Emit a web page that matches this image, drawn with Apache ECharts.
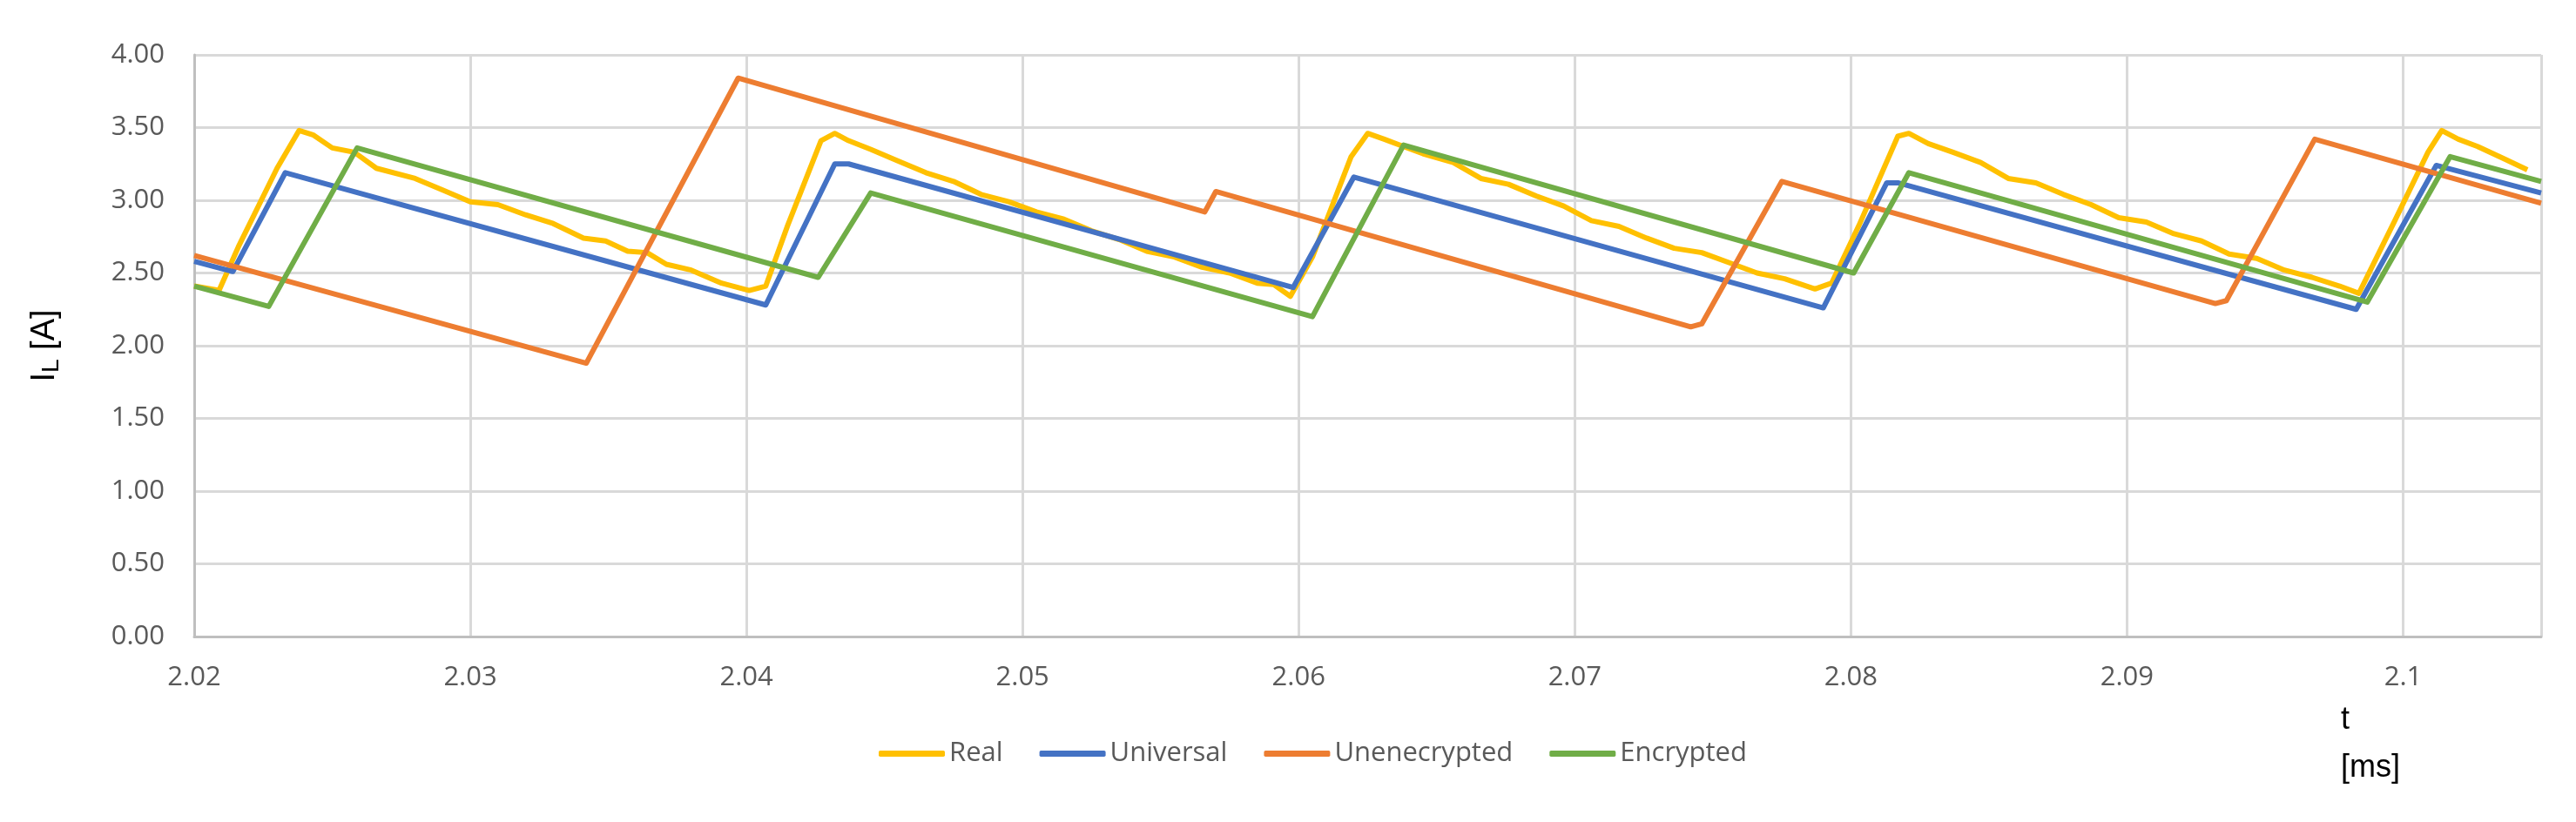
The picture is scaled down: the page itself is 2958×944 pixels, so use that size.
<!DOCTYPE html>
<html>
<head>
<meta charset="utf-8">
<script src="https://cdn.jsdelivr.net/npm/echarts@6/dist/echarts.min.js"></script>
<style>html,body{margin:0;padding:0;background:#fff}#chart{width:2958px;height:944px}</style>
</head>
<body>
<div id="chart"></div>
<script>
// 各曲线数据 [t(ms), I_L(A)]
const realData = [
	[2.02, 2.41], [2.0209, 2.38], [2.0216, 2.68], [2.023, 3.22], [2.0238, 3.48], [2.0243, 3.45],
	[2.025, 3.36], [2.0258, 3.33], [2.0266, 3.22], [2.028, 3.15], [2.029, 3.07], [2.030, 2.99],
	[2.031, 2.97], [2.032, 2.90], [2.033, 2.84], [2.0341, 2.74], [2.0349, 2.72], [2.0357, 2.65],
	[2.0364, 2.64], [2.0371, 2.56], [2.038, 2.52], [2.0391, 2.43], [2.0401, 2.38], [2.0407, 2.41],
	[2.0415, 2.83], [2.0427, 3.41], [2.0432, 3.46], [2.0437, 3.41], [2.0445, 3.35], [2.0455, 3.27],
	[2.0465, 3.19], [2.0475, 3.13], [2.0485, 3.04], [2.0495, 2.99], [2.0505, 2.92], [2.0515, 2.87],
	[2.0525, 2.79], [2.0535, 2.73], [2.0545, 2.65], [2.0555, 2.61], [2.0565, 2.54], [2.0575, 2.50],
	[2.0585, 2.43], [2.0591, 2.42], [2.0597, 2.34], [2.0605, 2.61], [2.0619, 3.30], [2.0625, 3.46],
	[2.0631, 3.42], [2.0638, 3.37], [2.0645, 3.32], [2.0656, 3.26], [2.0666, 3.15], [2.0676, 3.11],
	[2.0686, 3.03], [2.0696, 2.96], [2.0706, 2.86], [2.0716, 2.82], [2.0726, 2.74], [2.0736, 2.67],
	[2.0746, 2.64], [2.0756, 2.57], [2.0766, 2.50], [2.0776, 2.46], [2.0787, 2.39], [2.0793, 2.43],
	[2.0803, 2.83], [2.0817, 3.44], [2.0821, 3.46], [2.0828, 3.39], [2.0837, 3.33], [2.0847, 3.26],
	[2.0857, 3.15], [2.0867, 3.12], [2.0877, 3.04], [2.0887, 2.97], [2.0897, 2.88], [2.0907, 2.85],
	[2.0917, 2.77], [2.0927, 2.72], [2.0937, 2.63], [2.0947, 2.60], [2.0957, 2.52], [2.0967, 2.47],
	[2.0977, 2.41], [2.0984, 2.36], [2.0997, 2.86], [2.1009, 3.33], [2.1014, 3.48], [2.1020, 3.42],
	[2.1027, 3.37], [2.1036, 3.29], [2.1045, 3.21]
];
const universalData = [
	[2.02, 2.58], [2.0214, 2.51], [2.0233, 3.19], [2.0407, 2.28], [2.0432, 3.25], [2.0437, 3.25],
	[2.0598, 2.40], [2.062, 3.16], [2.079, 2.26], [2.0813, 3.12], [2.0817, 3.12], [2.0983, 2.25],
	[2.1012, 3.24], [2.105, 3.05]
];
const unencryptedData = [
	[2.02, 2.62], [2.0342, 1.88], [2.0397, 3.84], [2.0566, 2.92], [2.057, 3.06], [2.0742, 2.13],
	[2.0746, 2.15], [2.0775, 3.13], [2.0932, 2.29], [2.0936, 2.31], [2.0968, 3.42], [2.105, 2.98]
];
const encryptedData = [
	[2.02, 2.41], [2.0227, 2.27], [2.0259, 3.36], [2.0426, 2.47], [2.0445, 3.05], [2.0605, 2.20],
	[2.0638, 3.38], [2.0801, 2.50], [2.0821, 3.19], [2.0987, 2.30], [2.1017, 3.30], [2.105, 3.13]
];
const seriesNames = ['Real', 'Universal', 'Unenecrypted', 'Encrypted'];
const seriesColors = ['#FFC000', '#4472C4', '#ED7D31', '#70AD47'];
const seriesData = [realData, universalData, unencryptedData, encryptedData];

const chart = echarts.init(document.getElementById('chart'));
const axisText = { color: '#595959', fontSize: 31, fontFamily: 'Open Sans' };

chart.setOption({
	animation: false,
	color: seriesColors,
	grid: { left: 223, right: 40, top: 63, bottom: 213 },
	legend: {
		data: seriesNames,
		left: 1004,
		top: 845,
		icon: 'roundRect',
		itemWidth: 76,
		itemHeight: 7,
		itemGap: 42,
		textStyle: axisText
	},
	xAxis: {
		type: 'value',
		min: 2.02,
		max: 2.105,
		interval: 0.01,
		axisLine: { lineStyle: { color: '#bfbfbf', width: 3 } },
		axisTick: { show: false },
		axisLabel: {
			...axisText,
			margin: 32,
			showMaxLabel: false,
			formatter: v => String(parseFloat(v.toFixed(2)))
		},
		splitLine: { show: true, lineStyle: { color: '#d9d9d9', width: 3 } }
	},
	yAxis: {
		type: 'value',
		min: 0,
		max: 4,
		interval: 0.5,
		name: '{a|I}{b|L}{a| [A]}',
		nameLocation: 'middle',
		nameGap: 150,
		nameTextStyle: {
			rich: {
				a: { fontSize: 38, color: '#000', fontFamily: 'Liberation Sans' },
				b: { fontSize: 28, color: '#000', fontFamily: 'Liberation Sans', padding: [14, 0, 0, 0] }
			}
		},
		axisLine: { show: true, lineStyle: { color: '#bfbfbf', width: 3 } },
		axisTick: { show: false },
		axisLabel: { ...axisText, margin: 34, formatter: v => v.toFixed(2) },
		splitLine: { lineStyle: { color: '#d9d9d9', width: 3 } }
	},
	graphic: [{
		type: 'text',
		left: 2688,
		top: 800,
		style: { text: 't\n[ms]', fontSize: 36, lineHeight: 55, fill: '#000', fontFamily: 'Liberation Sans' }
	}],
	series: seriesNames.map((name, i) => ({
		name,
		type: 'line',
		data: seriesData[i],
		showSymbol: false,
		lineStyle: { width: 6, color: seriesColors[i], join: 'round' }
	}))
});
</script>
</body>
</html>
